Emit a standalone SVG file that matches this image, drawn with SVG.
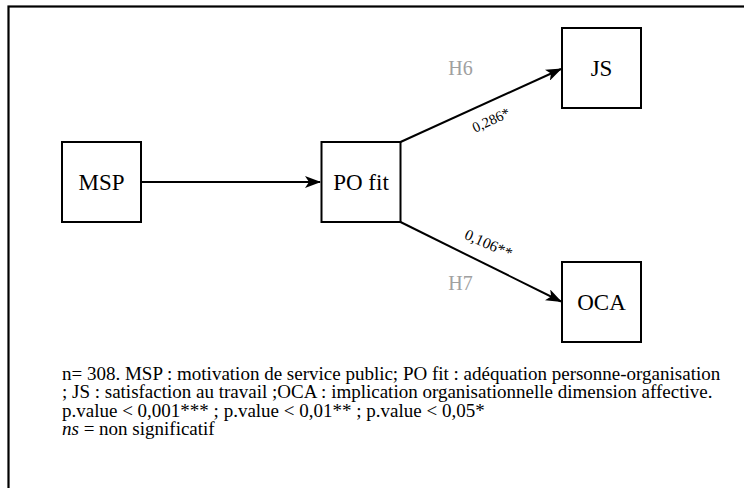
<svg xmlns="http://www.w3.org/2000/svg" width="744" height="488" viewBox="0 0 744 488">
<style>
text{font-family:"Liberation Serif","Times New Roman",serif}
.box{fill:#fff;stroke:#000;stroke-width:2}
.lbl{font-size:23px;fill:#000;text-anchor:middle}
.edge{stroke:#000;stroke-width:2;fill:none}
.h{font-size:20px;fill:#a0a0a0;text-anchor:middle}
.w{fill:#000;text-anchor:middle}
.note{font-size:19px;fill:#000}
</style>
<defs>
<marker id="arr" viewBox="0 0 16 12" refX="15" refY="6" markerWidth="16" markerHeight="12" markerUnits="userSpaceOnUse" orient="auto">
<path d="M0,0 L16,6 L0,12 L4,6 Z" fill="#000"/>
</marker>
</defs>
<rect x="0" y="0" width="744" height="488" fill="#fff"/>
<rect x="8.5" y="6.5" width="760" height="500" fill="none" stroke="#000" stroke-width="2.2"/>
<g id="connectors">
<line class="edge" x1="141" y1="182" x2="320" y2="182" marker-end="url(#arr)"/>
<line class="edge" x1="400.5" y1="142" x2="561" y2="69" marker-end="url(#arr)"/>
<line class="edge" x1="400.5" y1="222" x2="561" y2="301.5" marker-end="url(#arr)"/>
<text class="h" x="460.5" y="75">H6</text>
<text class="h" x="460.5" y="290">H7</text>
<text class="w" font-size="14.5" transform="translate(491,120) rotate(-24.4)" y="5">0,286*</text>
<text class="w" font-size="15.5" transform="translate(488.5,244) rotate(24)" y="5">0,106**</text>
</g>
<g id="node-msp">
<rect class="box" x="62" y="142" width="79" height="80"/>
<text class="lbl" x="101.5" y="190">MSP</text>
</g>
<g id="node-pofit">
<rect class="box" x="321.5" y="142" width="79" height="80"/>
<text class="lbl" x="361" y="190">PO fit</text>
</g>
<g id="node-js">
<rect class="box" x="562" y="28" width="79" height="80"/>
<text class="lbl" x="601.5" y="76">JS</text>
</g>
<g id="node-oca">
<rect class="box" x="562" y="262" width="79" height="80"/>
<text class="lbl" x="601.5" y="310">OCA</text>
</g>
<g id="note">
<text class="note" x="62" y="380">n= 308. MSP : motivation de service public; PO fit : adéquation personne-organisation</text>
<text class="note" x="62" y="398.3">; JS : satisfaction au travail ;OCA : implication organisationnelle dimension affective.</text>
<text class="note" x="62" y="416.6">p.value &lt; 0,001*** ; p.value &lt; 0,01** ; p.value &lt; 0,05*</text>
<text class="note" x="62" y="435"><tspan font-style="italic">ns</tspan> = non significatif</text>
</g>
</svg>
